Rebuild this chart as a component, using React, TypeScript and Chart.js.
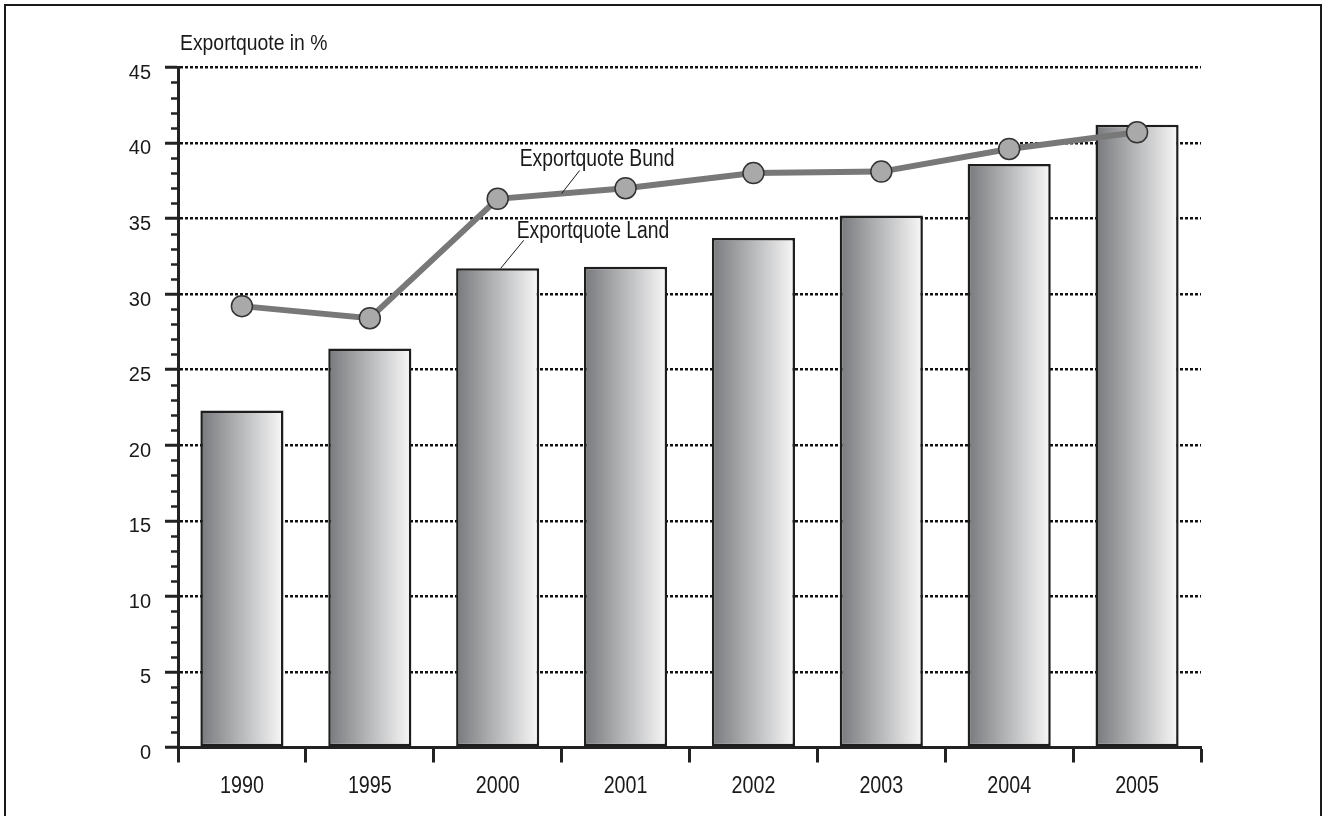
import { useEffect, useRef } from 'react';
import { Chart, registerables } from 'chart.js';

Chart.register(...registerables);

const YEARS = ['1990', '1995', '2000', '2001', '2002', '2003', '2004', '2005'];
const LAND = [22.3, 26.4, 31.7, 31.8, 33.7, 35.2, 38.6, 41.2];
const BUND = [29.2, 28.4, 36.3, 37.0, 38.0, 38.1, 39.6, 40.7];
const Y_MIN = 0;
const Y_MAX = 45;
const Y_STEP = 5;
const Y_MINOR_STEP = 1;
const AXIS_TITLE = 'Exportquote in %';
const LABEL_BUND = 'Exportquote Bund';
const LABEL_LAND = 'Exportquote Land';
const ANNOTATION_INDEX = 2;

const REGULAR = '"Liberation Sans", Arial, sans-serif';
const INK = '#1a1a1a';
const BAR_PCT = 0.65;

function condensedText(ctx: any, text: string, x: number, y: number, size: number, squeeze: number, align: string) {
  ctx.save();
  ctx.translate(x, y);
  ctx.scale(squeeze, 1);
  ctx.font = `${size}px ${REGULAR}`;
  ctx.textAlign = align;
  ctx.textBaseline = 'alphabetic';
  ctx.fillStyle = INK;
  ctx.fillText(text, 0, 0);
  ctx.restore();
}

const decorPlugin = {
  id: 'decor',
  beforeDatasetsDraw(chart: any) {
    const { ctx, scales } = chart;
    const y = scales.y;
    ctx.save();
    ctx.strokeStyle = '#222222';
    ctx.lineWidth = 2.5;
    for (let v = Y_MIN; v <= Y_MAX; v += Y_MINOR_STEP) {
      if (v % Y_STEP === 0) continue;
      const py = Math.round(y.getPixelForValue(v)) + 0.5;
      ctx.beginPath();
      ctx.moveTo(y.right - 7, py);
      ctx.lineTo(y.right, py);
      ctx.stroke();
    }
    ctx.restore();
  },
  afterDatasetsDraw(chart: any) {
    const { ctx, scales, chartArea } = chart;
    const x = scales.x;
    const y = scales.y;

    // axis title
    condensedText(ctx, AXIS_TITLE, chartArea.left + 2, chartArea.top - 17, 22, 0.88, 'left');

    // category labels
    YEARS.forEach((lab, idx) => {
      condensedText(ctx, lab, x.getPixelForValue(idx), x.top + 45.5, 24, 0.82, 'center');
    });

    ctx.save();
    ctx.strokeStyle = INK;
    ctx.lineWidth = 1;
    const i = ANNOTATION_INDEX;
    const ax = (x.getPixelForValue(i) + x.getPixelForValue(i + 1)) / 2;
    const ay = (y.getPixelForValue(BUND[i]) + y.getPixelForValue(BUND[i + 1])) / 2;
    ctx.beginPath();
    ctx.moveTo(ax, ay);
    ctx.lineTo(ax + 18, ay - 23);
    ctx.stroke();

    const bx = x.getPixelForValue(i) + 3;
    const by = y.getPixelForValue(LAND[i]);
    ctx.beginPath();
    ctx.moveTo(bx, by);
    ctx.lineTo(bx + 23, by - 28);
    ctx.stroke();
    ctx.restore();

    condensedText(ctx, LABEL_BUND, ax - 42, ay - 28, 23.3, 0.83, 'left');
    condensedText(ctx, LABEL_LAND, bx + 16, by - 30, 23.3, 0.83, 'left');
  },
};

function barGradient(context: any) {
  const chart = context.chart;
  const x = chart.scales?.x;
  if (!x || !x.width) return '#b0b0b0';
  const c = x.getPixelForValue(context.dataIndex);
  const w = (x.width / YEARS.length) * BAR_PCT;
  const g = chart.ctx.createLinearGradient(c - w / 2, 0, c + w / 2, 0);
  g.addColorStop(0, '#78797c');
  g.addColorStop(0.45, '#b2b3b5');
  g.addColorStop(1, '#f8f8f8');
  return g;
}

export default function App() {
  const ref = useRef<HTMLCanvasElement | null>(null);

  useEffect(() => {
    if (!ref.current) return;
    const chart = new Chart(ref.current, {
      type: 'bar',
      data: {
        labels: YEARS,
        datasets: [
          {
            type: 'line',
            label: LABEL_BUND,
            data: BUND,
            borderColor: '#787878',
            borderWidth: 6,
            pointRadius: 10.5,
            pointHoverRadius: 10.5,
            pointBackgroundColor: '#a9a9a9',
            pointBorderColor: '#333333',
            pointBorderWidth: 1.5,
            tension: 0,
            order: 0,
          } as any,
          {
            type: 'bar',
            label: LABEL_LAND,
            data: LAND,
            backgroundColor: barGradient,
            borderColor: '#1e1e1e',
            borderWidth: 2.5,
            borderSkipped: false,
            categoryPercentage: 1,
            barPercentage: BAR_PCT,
            order: 1,
          } as any,
        ],
      },
      options: {
        animation: false,
        responsive: true,
        maintainAspectRatio: false,
        layout: { padding: { left: 0, right: 121, top: 67.3, bottom: 0 } },
        plugins: {
          legend: { display: false },
          tooltip: { enabled: false },
          title: { display: false },
        },
        scales: {
          x: {
            type: 'category',
            offset: true,
            afterFit: (s: any) => {
              s.height = 68.5;
            },
            grid: {
              offset: true,
              drawOnChartArea: false,
              drawTicks: true,
              tickLength: 15,
              tickWidth: 3,
              tickColor: '#222222',
              color: '#222222',
            },
            border: { display: true, color: '#222222', width: 3 },
            ticks: {
              display: false,
              autoSkip: false,
            },
          },
          y: {
            type: 'linear',
            min: Y_MIN,
            max: Y_MAX,
            afterFit: (s: any) => {
              s.width = 178;
            },
            grid: {
              color: '#111111',
              lineWidth: 2.5,
              drawTicks: true,
              tickLength: 13,
              tickWidth: 3,
              tickColor: '#222222',
              tickBorderDash: [],
            } as any,
            border: { display: true, color: '#222222', width: 3, dash: [3, 2] },
            ticks: {
              stepSize: Y_STEP,
              color: INK,
              font: { family: REGULAR, size: 20 },
              padding: 14,
              labelOffset: 6,
            },
          },
        },
      },
      plugins: [decorPlugin],
    });
    return () => chart.destroy();
  }, []);

  return (
    <div style={{ position: 'fixed', left: 0, top: 0, width: 1322, height: 816, background: '#ffffff' }}>
      <div
        style={{
          position: 'absolute',
          left: 4,
          top: 4,
          width: 1318,
          height: 830,
          boxSizing: 'border-box',
          border: '2px solid #1a1a1a',
          pointerEvents: 'none',
        }}
      />
      <canvas ref={ref} />
    </div>
  );
}
